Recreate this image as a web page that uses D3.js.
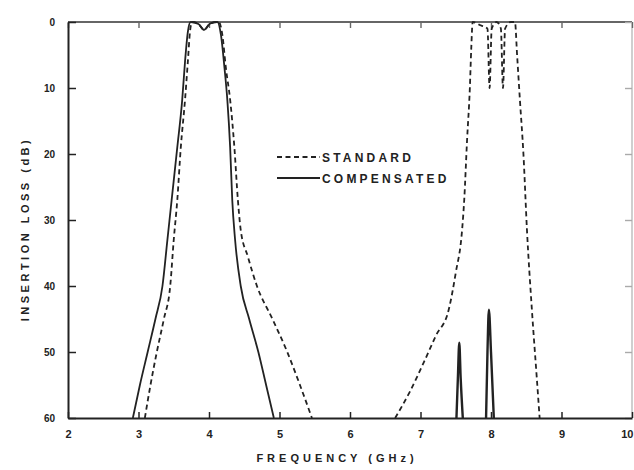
<!DOCTYPE html>
<html>
<head>
<meta charset="utf-8">
<script src="https://cdn.jsdelivr.net/npm/d3@7"></script>
<style>
  html, body { margin: 0; padding: 0; background: #fff; }
  svg { display: block; }
  text { font-family: "Liberation Sans", Arial, sans-serif; font-weight: bold; fill: #222; }
</style>
</head>
<body>
<svg id="chart" width="634" height="470"></svg>
<script>
// ---- data ----
const xTicks = [2, 3, 4, 5, 6, 7, 8, 9, 10];
const yTicks = [0, 10, 20, 30, 40, 50, 60];
const xTitle = "FREQUENCY (GHz)";
const yTitle = "INSERTION LOSS (dB)";
const seriesNames = ["STANDARD", "COMPENSATED"];

// [frequency GHz, insertion loss dB]
const standardBand1 = [
  [3.09, 60], [3.17, 55], [3.26, 50], [3.36, 45], [3.45, 40], [3.50, 33], [3.55, 27],
  [3.60, 19], [3.66, 11.8], [3.70, 6], [3.73, 1.5], [3.76, 0], [3.85, 0.3], [3.93, 1.2],
  [4.02, 0.2], [4.14, 0], [4.19, 2], [4.24, 7], [4.30, 11.8], [4.36, 19], [4.41, 27],
  [4.45, 31.5], [4.55, 35.5], [4.68, 40], [4.90, 45], [5.11, 50], [5.29, 55], [5.46, 60]
];
const standardBand2 = [
  [6.64, 60], [6.85, 56], [7.05, 51.5], [7.22, 47.5], [7.40, 43.6], [7.50, 38], [7.59, 31.5],
  [7.62, 27], [7.66, 18], [7.70, 10], [7.72, 4], [7.74, 0], [7.85, 0.5], [7.95, 1],
  [7.98, 10], [8.01, 1], [8.08, 0], [8.14, 1], [8.17, 10], [8.20, 1], [8.28, 0], [8.34, 0],
  [8.37, 5], [8.41, 11.8], [8.46, 20], [8.51, 31.5], [8.58, 43.6], [8.65, 54], [8.69, 60]
];
const compensatedBand1 = [
  [2.92, 60], [3.02, 55], [3.13, 50], [3.24, 45], [3.34, 40], [3.41, 33], [3.47, 27],
  [3.55, 19], [3.62, 11.8], [3.66, 6], [3.70, 1.5], [3.74, 0], [3.85, 0.3], [3.93, 1.2],
  [4.02, 0.2], [4.12, 0], [4.17, 2], [4.22, 7], [4.26, 11.8], [4.30, 19], [4.33, 27],
  [4.37, 33], [4.45, 40], [4.57, 45], [4.70, 50], [4.81, 55], [4.92, 60]
];
const compensatedSpike1 = [[7.51, 60], [7.53, 54], [7.55, 48.6], [7.57, 54], [7.60, 60]];
const compensatedSpike2 = [[7.93, 60], [7.95, 50], [7.97, 43.6], [8.00, 50], [8.04, 60]];

// ---- layout ----
const svg = d3.select("#chart");
const mL = 68, mR = 632, mT = 22, mB = 418;
const ink = "#222";

const x = d3.scaleLinear().domain([2, 10]).range([mL, mR]);
const y = d3.scaleLinear().domain([0, 60]).range([mT, mB]);

// frame: top & right (lighter, as in scan)
svg.append("line").attr("x1", mL).attr("x2", mR).attr("y1", mT).attr("y2", mT)
  .attr("stroke", "#666").attr("stroke-width", 1.8);
svg.append("line").attr("x1", mR).attr("x2", mR).attr("y1", mT).attr("y2", mB)
  .attr("stroke", "#bbb").attr("stroke-width", 1.4);

// top ticks & right ticks (inward)
svg.append("g").attr("transform", `translate(0,${mT})`)
  .call(d3.axisTop(x).tickValues(xTicks).tickSize(-6).tickFormat(""))
  .call(g => { g.select(".domain").remove(); g.selectAll("line").attr("stroke", "#666").attr("stroke-width", 1.4); });
svg.append("g").attr("transform", `translate(${mR},0)`)
  .call(d3.axisRight(y).tickValues(yTicks).tickSize(-7).tickFormat(""))
  .call(g => { g.select(".domain").remove(); g.selectAll("line").attr("stroke", "#aaa").attr("stroke-width", 1.4); });

// bottom axis
const gx = svg.append("g").attr("transform", `translate(0,${mB})`)
  .call(d3.axisBottom(x).tickValues(xTicks).tickSizeInner(-6).tickSizeOuter(0).tickPadding(12).tickFormat(d3.format("d")));
gx.select(".domain").attr("stroke", ink).attr("stroke-width", 2);
gx.selectAll(".tick line").attr("stroke", ink).attr("stroke-width", 1.5);
gx.selectAll(".tick text").style("font-size", "11px").attr("fill", ink);
// keep the last label inside the page edge
gx.selectAll(".tick text").filter(d => d === 10).attr("text-anchor", "end").attr("dx", "1");

// left axis
const gy = svg.append("g").attr("transform", `translate(${mL},0)`)
  .call(d3.axisLeft(y).tickValues(yTicks).tickSizeInner(-8).tickSizeOuter(0).tickPadding(13).tickFormat(d3.format("d")));
gy.select(".domain").attr("stroke", ink).attr("stroke-width", 2);
gy.selectAll(".tick line").attr("stroke", ink).attr("stroke-width", 1.5);
gy.selectAll(".tick text").style("font-size", "10px").attr("fill", ink);

// curves
const line = d3.line().x(d => x(d[0])).y(d => y(d[1])).curve(d3.curveMonotoneX);
const drawSeries = (data, dashed, width) => svg.append("path").datum(data)
  .attr("d", line).attr("fill", "none").attr("stroke", ink)
  .attr("stroke-width", width).attr("stroke-linejoin", "round")
  .attr("stroke-dasharray", dashed ? "5,3.5" : null);

drawSeries(standardBand1, true, 1.8);
drawSeries(standardBand2, true, 1.8);
drawSeries(compensatedBand1, false, 1.8);
drawSeries(compensatedSpike1, false, 2.4);
drawSeries(compensatedSpike2, false, 2.4);

// legend
const lg = svg.append("g");
[0, 1].forEach(i => {
  const ly = 157 + i * 21;
  lg.append("line").attr("x1", 277).attr("x2", 320).attr("y1", ly).attr("y2", ly)
    .attr("stroke", ink).attr("stroke-width", 1.8)
    .attr("stroke-dasharray", i === 0 ? "5,3.5" : null);
  lg.append("text").attr("x", 322).attr("y", ly + 4.5)
    .style("font-size", "12px").style("letter-spacing", "3.2px")
    .text(seriesNames[i]);
});

// axis titles
svg.append("text").attr("x", 337).attr("y", 462).attr("text-anchor", "middle")
  .style("font-size", "11px").style("letter-spacing", "4px").text(xTitle);
svg.append("text").attr("transform", `translate(29,229) rotate(-90)`).attr("text-anchor", "middle")
  .style("font-size", "11px").style("letter-spacing", "3.5px").text(yTitle);
</script>
</body>
</html>
